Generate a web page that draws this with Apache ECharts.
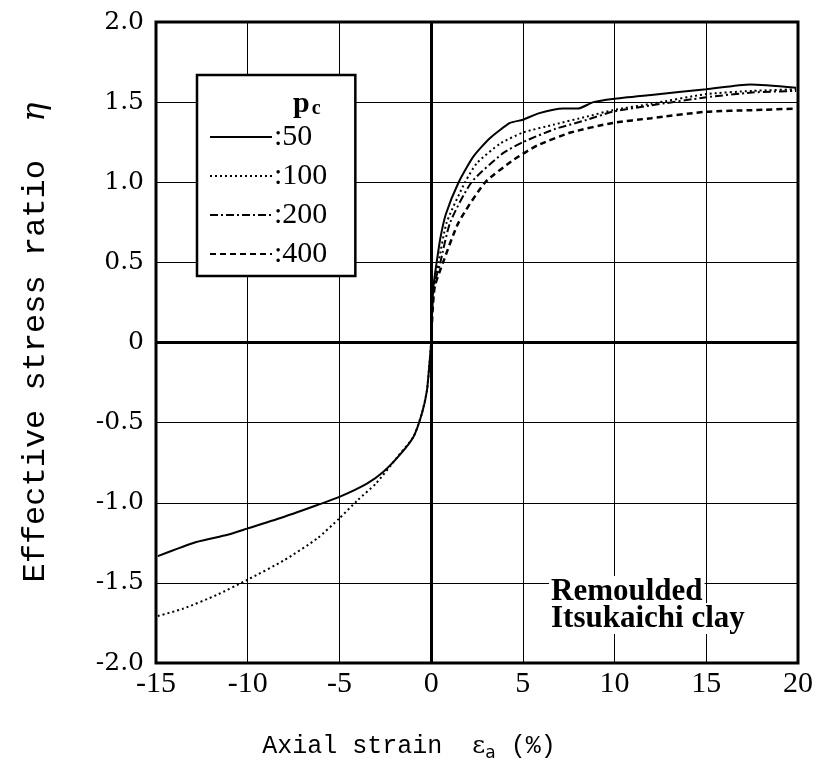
<!DOCTYPE html>
<html>
<head>
<meta charset="utf-8">
<script src="https://cdn.jsdelivr.net/npm/echarts@6/dist/echarts.min.js"></script>
<style>
  html, body { margin: 0; padding: 0; background: #fff; }
  #chart { width: 819px; height: 783px; }
</style>
</head>
<body>
<div id="chart"></div>
<script>
// axial strain (%) / stress ratio pairs
var pc50 = [
  [-14.9, -1.333], [-12.8, -1.245], [-11.1, -1.20], [-10, -1.16], [-8, -1.087],
  [-6.2, -1.014], [-5, -0.963], [-3.5, -0.88], [-2.6, -0.806], [-1.7, -0.70],
  [-0.96, -0.588], [-0.5, -0.442], [-0.23, -0.30], [-0.09, -0.13], [0, 0],
  [0.05, 0.2], [0.12, 0.35], [0.3, 0.5], [0.5, 0.65], [0.8, 0.8], [1.5, 1.0], [2.3, 1.16],
  [3.2, 1.275], [4.3, 1.37], [5, 1.39], [5.85, 1.43], [7.2, 1.46], [8, 1.46],
  [8.85, 1.50], [9.9, 1.52], [12, 1.545], [15, 1.58], [17.4, 1.61], [19.9, 1.59]
];
var pc100 = [
  [-14.9, -1.707], [-13.5, -1.66], [-11.7, -1.576], [-10, -1.48], [-8, -1.358],
  [-6.2, -1.222], [-5, -1.097], [-4, -0.983], [-3, -0.879], [-1.9, -0.723],
  [-0.96, -0.588], [-0.5, -0.44], [-0.23, -0.30], [-0.09, -0.13], [0, 0],
  [0.05, 0.2], [0.12, 0.35], [0.4, 0.5], [0.85, 0.75], [1.85, 1.0], [2.5, 1.12],
  [3.75, 1.24], [5, 1.31], [6.7, 1.36], [8.5, 1.41], [9.9, 1.45], [12, 1.49],
  [15, 1.55], [17.5, 1.57], [19.9, 1.58]
];
var pc200 = [
  [0, 0], [0.05, 0.2], [0.15, 0.35], [0.5, 0.5], [1.04, 0.75], [2.2, 1.0],
  [3.9, 1.18], [5, 1.25], [6.7, 1.33], [8.5, 1.39], [9.9, 1.44], [12, 1.48],
  [15, 1.53], [17.5, 1.56], [19.9, 1.57]
];
var pc400 = [
  [0, 0], [0.08, 0.2], [0.2, 0.35], [0.65, 0.5], [1.5, 0.75], [2.95, 1.0],
  [4.5, 1.14], [5.8, 1.23], [7.6, 1.31], [9.9, 1.37], [12, 1.40], [15, 1.44],
  [17.5, 1.45], [19.9, 1.46]
];
var pcNames = ['50', '100', '200', '400'];

var myChart = echarts.init(document.getElementById('chart'));

function curve(name, data, dash, width) {
  return {
    name: name,
    type: 'line',
    data: data,
    symbol: 'none',
    smooth: 0.2,
    lineStyle: { color: '#000', width: width, type: dash },
    itemStyle: { color: '#000' }
  };
}

var s50 = curve(pcNames[0], pc50, 'solid', 2);
// zero lines through the origin
s50.markLine = {
  silent: true,
  symbol: ['none', 'none'],
  label: { show: false },
  lineStyle: { color: '#000', width: 3, type: 'solid' },
  data: [{ xAxis: 0 }, { yAxis: 0 }]
};

var option = {
  animation: false,
  backgroundColor: '#fff',
  grid: {
    left: 156, right: 21, top: 22, bottom: 120,
    show: true, borderColor: '#000', borderWidth: 3
  },
  title: [
    {
      text: '{p|p}{c|c}',
      left: 288, top: 84, z: 10,
      textStyle: {
        rich: {
          p: { fontFamily: 'Liberation Serif', fontWeight: 'bold', fontSize: 30, color: '#000' },
          c: { fontFamily: 'Liberation Serif', fontSize: 20, color: '#000', padding: [10, 0, 0, 2] }
        }
      }
    },
    {
      text: '{a|Remoulded}\n{a|Itsukaichi clay}',
      left: 544, top: 573,
      textStyle: {
        rich: {
          a: {
            fontFamily: 'Liberation Serif', fontWeight: 'bold', fontSize: 31,
            color: '#000', backgroundColor: '#fff', lineHeight: 27, padding: [0, 2]
          }
        }
      }
    }
  ],
  legend: {
    orient: 'vertical',
    left: 197, top: 75,
    padding: [47, 28, 7, 12],
    itemGap: 9,
    itemWidth: 62,
    itemHeight: 14,
    borderColor: '#000', borderWidth: 2.5,
    backgroundColor: '#fff',
    data: pcNames,
    itemStyle: { color: 'rgba(0,0,0,0)', borderWidth: 0 },
    formatter: function (n) { return ':' + n; },
    textStyle: { fontFamily: 'Liberation Serif', fontSize: 30, color: '#000', padding: [0, 0, 0, -3] }
  },
  xAxis: {
    type: 'value',
    min: -15, max: 20, interval: 5,
    axisLine: { show: false },
    axisTick: { show: false },
    splitLine: { show: true, lineStyle: { color: '#000', width: 1 } },
    axisLabel: { fontFamily: 'Liberation Serif', fontSize: 30, color: '#000', margin: 6 },
    name: '{t|Axial strain  }{e|ε}{s|a}{t| (%)}',
    nameLocation: 'middle',
    nameGap: 68,
    nameTextStyle: {
      padding: [0, 136, 0, 0],
      rich: {
        t: { fontFamily: 'Liberation Mono', fontSize: 25, color: '#000' },
        e: { fontFamily: 'DejaVu Serif', fontSize: 25, color: '#000' },
        s: { fontFamily: 'DejaVu Sans', fontSize: 17, color: '#000', padding: [14, 0, 0, 0] }
      }
    }
  },
  yAxis: {
    type: 'value',
    min: -2, max: 2, interval: 0.5,
    axisLine: { show: false },
    axisTick: { show: false },
    splitLine: { show: true, lineStyle: { color: '#000', width: 1 } },
    axisLabel: {
      fontFamily: 'DejaVu Serif', fontSize: 25, color: '#000', margin: 12,
      formatter: function (v) { return v === 0 ? '0' : v.toFixed(1); }
    },
    name: '{t|Effective stress ratio  }{e|η}',
    nameLocation: 'middle',
    nameGap: 104,
    nameTextStyle: {
      rich: {
        t: { fontFamily: 'Liberation Mono', fontSize: 32, color: '#000' },
        e: { fontFamily: 'DejaVu Serif', fontStyle: 'italic', fontSize: 32, color: '#000' }
      }
    }
  },
  series: [
    s50,
    curve(pcNames[1], pc100, [2, 3], 2),
    curve(pcNames[2], pc200, [8, 3, 2, 3], 2),
    curve(pcNames[3], pc400, [6, 4], 2.5)
  ]
};

myChart.setOption(option);
</script>
</body>
</html>
